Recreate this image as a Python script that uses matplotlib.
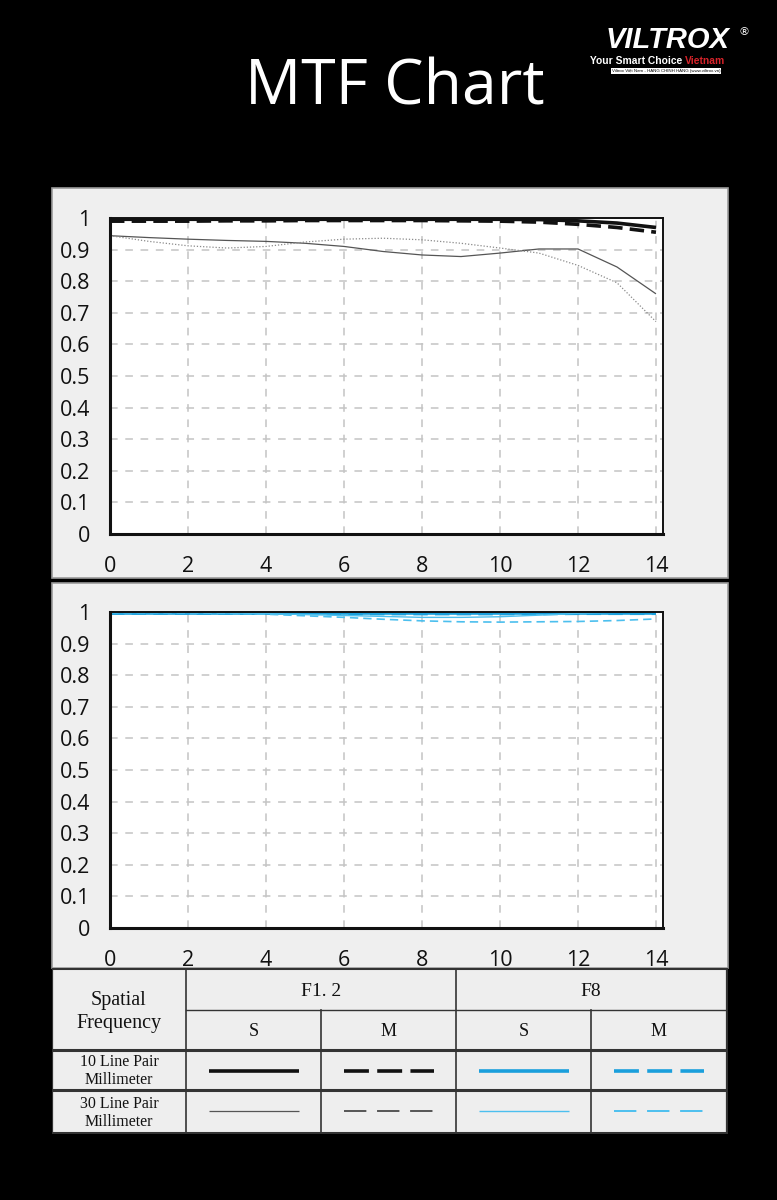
"""MTF chart, F1.2 vs F8, with the line-style key table underneath."""

import matplotlib
matplotlib.use("Agg")
import matplotlib.pyplot as plt
from matplotlib.patches import Rectangle

W, H = 777, 1200

freq = list(range(15))

# F1.2 (top panel)
f12_10_s = [0.996, 0.996, 0.996, 0.996, 0.996, 0.996, 0.996, 0.996, 0.996, 0.996, 0.996, 0.995, 0.991, 0.984, 0.970]
f12_10_m = [0.990, 0.990, 0.990, 0.991, 0.991, 0.992, 0.992, 0.992, 0.992, 0.991, 0.990, 0.987, 0.980, 0.970, 0.955]
f12_30_s = [0.944, 0.938, 0.933, 0.929, 0.926, 0.920, 0.910, 0.894, 0.883, 0.878, 0.889, 0.902, 0.902, 0.845, 0.760]
f12_30_m = [0.944, 0.926, 0.912, 0.905, 0.910, 0.924, 0.933, 0.936, 0.931, 0.920, 0.905, 0.889, 0.850, 0.795, 0.672]

# F8 (bottom panel)
f8_10_s = [0.998, 0.998, 0.998, 0.998, 0.998, 0.998, 0.998, 0.998, 0.998, 0.998, 0.998, 0.998, 0.998, 0.998, 0.998]
f8_10_m = [0.997, 0.997, 0.997, 0.997, 0.997, 0.996, 0.995, 0.995, 0.995, 0.995, 0.995, 0.995, 0.996, 0.996, 0.996]
f8_30_s = [0.998, 0.998, 0.998, 0.997, 0.995, 0.992, 0.989, 0.986, 0.983, 0.983, 0.985, 0.990, 0.996, 0.999, 1.000]
f8_30_m = [0.998, 0.998, 0.997, 0.996, 0.993, 0.988, 0.983, 0.977, 0.972, 0.969, 0.968, 0.969, 0.970, 0.973, 0.978]

x_ticks = [0, 2, 4, 6, 8, 10, 12, 14]
y_ticks = [0, 0.1, 0.2, 0.3, 0.4, 0.5, 0.6, 0.7, 0.8, 0.9, 1]
y_labels = ["0", "0.1", "0.2", "0.3", "0.4", "0.5", "0.6", "0.7", "0.8", "0.9", "1"]

BLACK = "#111111"
GREY = "#555555"
GREY_DOT = "#8a8a8a"
BLUE = "#1a9fdc"
BLUE_LT = "#4cbfee"

styles_f12 = [
    dict(color=BLACK, lw=2.6, ls="-"),
    dict(color=BLACK, lw=2.6, ls=(0, (4, 2))),
    dict(color=GREY, lw=0.9, ls="-"),
    dict(color=GREY_DOT, lw=0.9, ls=(0, (1, 1.5))),
]
styles_f8 = [
    dict(color=BLUE, lw=2.6, ls="-"),
    dict(color=BLUE, lw=2.6, ls=(0, (4, 2))),
    dict(color=BLUE_LT, lw=1.0, ls="-"),
    dict(color=BLUE_LT, lw=1.2, ls=(0, (5, 3))),
]


def px_rect(x0, y0, x1, y1):
    """Pixel box (top-left origin) -> figure-fraction rect."""
    return [x0 / W, 1 - y1 / H, (x1 - x0) / W, (y1 - y0) / H]


fig = plt.figure(figsize=(W / 100, H / 100), dpi=100, facecolor="black")

fig.text(395 / W, 1 - 88 / H, "MTF Chart", color="white", fontsize=45,
         family="Open Sans", ha="center", va="center")

# logo stand-in
fig.text(668 / W, 1 - 40 / H, "VILTROX", color="white", fontsize=21, weight="bold",
         style="italic", family="Liberation Sans", ha="center", va="center")
fig.text(744 / W, 1 - 32 / H, "®", color="white", fontsize=8, ha="center", va="center")
fig.text(685 / W, 1 - 61 / H, "Your Smart Choice ", color="white", fontsize=7.4,
         weight="bold", family="Liberation Sans", ha="right", va="center")
fig.text(685 / W, 1 - 61 / H, "Vietnam", color="#d8232a", fontsize=7.4,
         weight="bold", family="Liberation Sans", ha="left", va="center")
fig.text(666 / W, 1 - 71 / H, "Viltrox Việt Nam - HÀNG CHÍNH HÃNG (www.viltrox.vn)",
         color="black", fontsize=3.2, family="Liberation Sans", ha="center", va="center",
         bbox=dict(boxstyle="square,pad=0.2", fc="white", ec="none"))

# panel backgrounds
for box in [(52, 188, 728, 578), (52, 583, 728, 968)]:
    fig.add_artist(Rectangle((box[0] / W, 1 - box[3] / H), (box[2] - box[0]) / W,
                             (box[3] - box[1]) / H, transform=fig.transFigure,
                             fc="#efefef", ec="#9a9a9a", lw=1.2, zorder=0))


def panel(rect, series, styles):
    ax = fig.add_axes(rect)
    ax.set_facecolor("white")
    for vals, st in zip(series, styles):
        ax.plot(freq, vals, solid_capstyle="butt", dash_capstyle="butt", zorder=3, **st)
    ax.set_xlim(0, 14.18)
    ax.set_ylim(0, 1)
    ax.set_xticks(x_ticks)
    ax.set_yticks(y_ticks)
    ax.set_yticklabels(y_labels)
    ax.tick_params(length=0, labelsize=15.5, colors="#111111")
    ax.tick_params(axis="y", pad=14)
    ax.tick_params(axis="x", pad=16)
    for lab in ax.get_xticklabels() + ax.get_yticklabels():
        lab.set_family("Open Sans")
    ax.grid(True, color="#c4c4c4", lw=1.1, ls=(0, (5, 5)))
    for side in ["left", "bottom"]:
        ax.spines[side].set_linewidth(2.2)
    for side in ["top", "right"]:
        ax.spines[side].set_linewidth(1.4)
    for sp in ax.spines.values():
        sp.set_color("#111111")
        sp.set_zorder(4)
    return ax


panel(px_rect(110, 218, 663, 534), [f12_10_s, f12_10_m, f12_30_s, f12_30_m], styles_f12)
panel(px_rect(110, 612, 663, 928), [f8_10_s, f8_10_m, f8_30_s, f8_30_m], styles_f8)

# key table
tx = [52, 186, 321, 456, 591, 727]
ty = [968, 1010, 1050, 1090, 1133]
tab = fig.add_axes(px_rect(52, 968, 728, 1134))
tab.set_xlim(52, 728)
tab.set_ylim(1134, 968)
tab.axis("off")
tab.add_patch(Rectangle((52, 968), 676, 166, fc="#eeeeee", ec="none", zorder=0))

line_c = "#333333"
tab.plot([52, 728], [ty[0], ty[0]], color=line_c, lw=2.2)
tab.plot([52, 728], [ty[-1], ty[-1]], color=line_c, lw=2.2)
tab.plot([186, 728], [ty[1], ty[1]], color=line_c, lw=1.0)
tab.plot([52, 728], [ty[2], ty[2]], color=line_c, lw=2.2)
tab.plot([52, 728], [ty[3], ty[3]], color=line_c, lw=2.2)
for x in [52, 727]:
    tab.plot([x, x], [ty[0], ty[-1]], color=line_c, lw=1.6)
for x in [186, 456]:
    tab.plot([x, x], [ty[0], ty[-1]], color=line_c, lw=1.2)
for x in [321, 591]:
    tab.plot([x, x], [ty[1], ty[-1]], color=line_c, lw=1.2)

serif = "Liberation Serif"
tab.text(119, 1012, "Spatial\nFrequency", ha="center", va="center", fontsize=14.5,
         family=serif, linespacing=1.25, color="#111111")
tab.text(321, 992, "F1. 2", ha="center", va="center", fontsize=14, family=serif, color="#111111")
tab.text(591, 992, "F8", ha="center", va="center", fontsize=14, family=serif, color="#111111")
for i, lab in enumerate(["S", "M", "S", "M"]):
    tab.text((tx[i + 1] + tx[i + 2]) / 2, 1032, lab, ha="center", va="center",
             fontsize=13, family=serif, color="#111111")
tab.text(119, 1071, "10 Line Pair\nMillimeter", ha="center", va="center", fontsize=11.5,
         family=serif, linespacing=1.1, color="#111111")
tab.text(119, 1113, "30 Line Pair\nMillimeter", ha="center", va="center", fontsize=11.5,
         family=serif, linespacing=1.1, color="#111111")

keys = [styles_f12[0], styles_f12[1], styles_f8[0], styles_f8[1],
        styles_f12[2], dict(color=GREY, lw=1.4, ls="--"), styles_f8[2],
        dict(color=BLUE_LT, lw=1.4, ls="--")]
for k, st in enumerate(keys):
    row, col = divmod(k, 4)
    cx = (tx[col + 1] + tx[col + 2]) / 2
    cy = [1071, 1111][row]
    st = dict(st)
    if st["ls"] != "-":
        st["ls"] = (0, (6.9, 2.3)) if st["lw"] > 2 else (0, (11.5, 5.5))
    tab.plot([cx - 45, cx + 45], [cy, cy], solid_capstyle="butt", dash_capstyle="butt", **st)

fig.savefig("out.png", dpi=100, facecolor="black")
